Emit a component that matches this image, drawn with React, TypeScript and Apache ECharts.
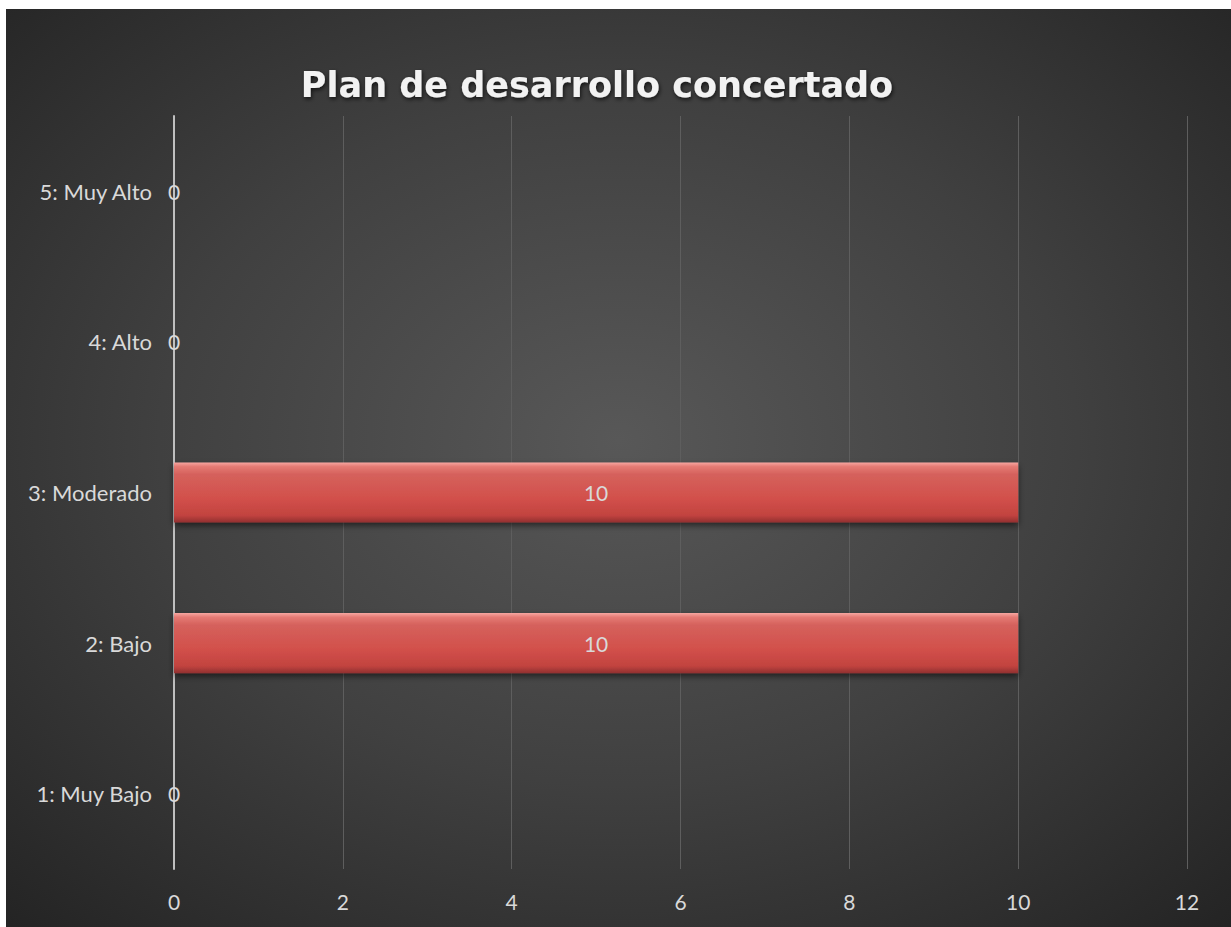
import React, { useEffect, useRef } from "react";
import * as echarts from "echarts";

const categories = ["1: Muy Bajo", "2: Bajo", "3: Moderado", "4: Alto", "5: Muy Alto"];
const values = [0, 10, 10, 0, 0];
const xTicks = { min: 0, max: 12, interval: 2 };
const titleText = "Plan de desarrollo concertado";

export default function App() {
  const ref = useRef<HTMLDivElement>(null);
  useEffect(() => {
    if (!ref.current) return;
    const chart = echarts.init(ref.current, undefined, { renderer: "svg" });
    const font = "Lato, 'Open Sans', sans-serif";
    chart.setOption({
      animation: false,
      backgroundColor: {
        type: "radial",
        x: 0.5,
        y: 0.47,
        r: 0.75,
        colorStops: [
          { offset: 0, color: "#585858" },
          { offset: 0.5, color: "#404040" },
          { offset: 1, color: "#222222" },
        ],
      },
      title: {
        text: titleText,
        left: 586,
        textAlign: "center",
        top: 53,
        textStyle: {
          color: "#f2f2f2",
          fontFamily: "'DejaVu Sans', sans-serif",
          fontWeight: "bold",
          fontSize: 35,
          textShadowColor: "rgba(0,0,0,0.7)",
          textShadowBlur: 4,
          textShadowOffsetX: 1,
          textShadowOffsetY: 2,
        },
      },
      grid: { left: 168, right: 44, top: 107, bottom: 58, containLabel: false },
      xAxis: {
        type: "value",
        min: xTicks.min,
        max: xTicks.max,
        interval: xTicks.interval,
        axisLine: { show: false },
        axisTick: { show: false },
        splitLine: { show: true, lineStyle: { color: "#5e5e5e", width: 1 } },
        axisLabel: { color: "#d9d9d9", fontSize: 21, fontFamily: font, margin: 22 },
      },
      yAxis: {
        type: "category",
        data: categories,
        axisLine: { show: true, lineStyle: { color: "#bfbfbf", width: 2 } },
        axisTick: { show: false },
        splitLine: { show: false },
        axisLabel: { color: "#d9d9d9", fontSize: 22, fontFamily: font, margin: 22 },
      },
      series: [
        {
          type: "bar",
          data: values,
          barCategoryGap: "60%",
          itemStyle: {
            color: {
              type: "linear",
              x: 0,
              y: 0,
              x2: 0,
              y2: 1,
              colorStops: [
                { offset: 0, color: "#f7a7a1" },
                { offset: 0.07, color: "#e57a74" },
                { offset: 0.2, color: "#d5615c" },
                { offset: 0.6, color: "#d2504b" },
                { offset: 0.88, color: "#c2433f" },
                { offset: 1, color: "#903030" },
              ],
            },
            shadowColor: "rgba(0,0,0,0.55)",
            shadowBlur: 6,
            shadowOffsetY: 3,
          },
          label: {
            show: true,
            position: "inside",
            color: "#d9d9d9",
            fontSize: 21,
            fontFamily: font,
          },
        },
      ],
    });
    return () => chart.dispose();
  }, []);
  return (
    <div
      ref={ref}
      style={{ position: "absolute", left: 6, top: 9, width: 1225, height: 918 }}
    />
  );
}
